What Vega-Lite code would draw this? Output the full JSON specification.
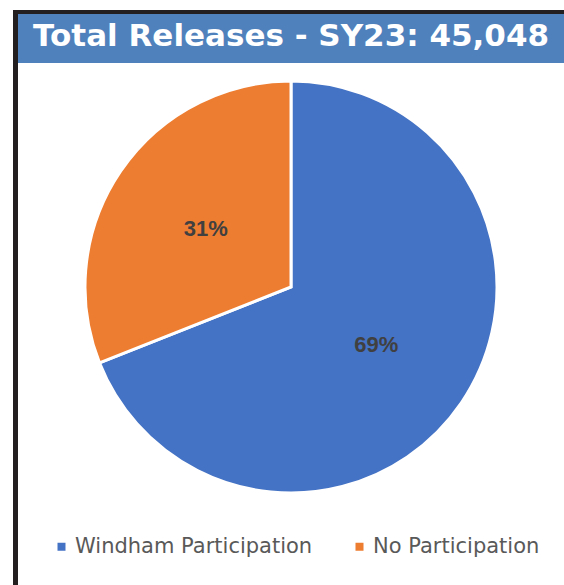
{
  "$schema": "https://vega.github.io/schema/vega-lite/v6.json",
  "width": 546,
  "height": 448,
  "autosize": {"type": "none"},
  "padding": {"left": 18, "top": 63, "right": 0, "bottom": 74},
  "background": "white",
  "config": {"view": {"stroke": null}},
  "title": {
    "text": "Total Releases - SY23: 45,048",
    "anchor": "start",
    "frame": "group",
    "dx": 15,
    "offset": -67,
    "baseline": "alphabetic",
    "font": "DejaVu Sans",
    "fontSize": 31,
    "fontWeight": "bold",
    "color": "white"
  },
  "data": {
    "values": [
      {"category": "Windham Participation", "value": 0.69},
      {"category": "No Participation", "value": 0.31}
    ]
  },
  "layer": [
    {
      "data": {"values": [{}]},
      "mark": {"type": "rect", "color": "#4F81BD"},
      "encoding": {"x": {"value": 0}, "x2": {"value": "width"}, "y": {"value": -49}, "y2": {"value": 0}}
    },
    {
      "data": {"values": [{}]},
      "mark": {"type": "rect", "color": "#231F20"},
      "encoding": {"x": {"value": -5}, "x2": {"value": 0}, "y": {"value": -53}, "y2": {"value": 522}}
    },
    {
      "data": {"values": [{}]},
      "mark": {"type": "rect", "color": "#231F20"},
      "encoding": {"x": {"value": -5}, "x2": {"value": "width"}, "y": {"value": -53}, "y2": {"value": -49}}
    },
    {
      "mark": {"type": "arc", "outerRadius": 206, "stroke": "white", "strokeWidth": 3},
      "encoding": {
        "theta": {"field": "value", "type": "quantitative", "stack": true},
        "order": {"field": "value", "sort": "descending"},
        "color": {
          "field": "category",
          "type": "nominal",
          "scale": {"domain": ["Windham Participation", "No Participation"], "range": ["#4472C4", "#ED7D31"]},
          "legend": {
            "orient": "none",
            "legendX": 33,
            "legendY": 473,
            "direction": "horizontal",
            "title": null,
            "symbolType": "square",
            "symbolSize": 64,
            "symbolStrokeWidth": 0,
            "labelFont": "DejaVu Sans",
            "labelFontSize": 21,
            "labelColor": "#595959",
            "labelOffset": 3,
            "columnPadding": 36,
            "padding": 0,
            "labelLimit": 400
          }
        }
      }
    },
    {
      "mark": {"type": "text", "radius": 103, "font": "Liberation Sans", "fontSize": 22, "fontWeight": "bold", "color": "#404040"},
      "encoding": {
        "theta": {"field": "value", "type": "quantitative", "stack": true},
        "order": {"field": "value", "sort": "descending"},
        "text": {"field": "value", "type": "quantitative", "format": ".0%"}
      }
    }
  ]
}
